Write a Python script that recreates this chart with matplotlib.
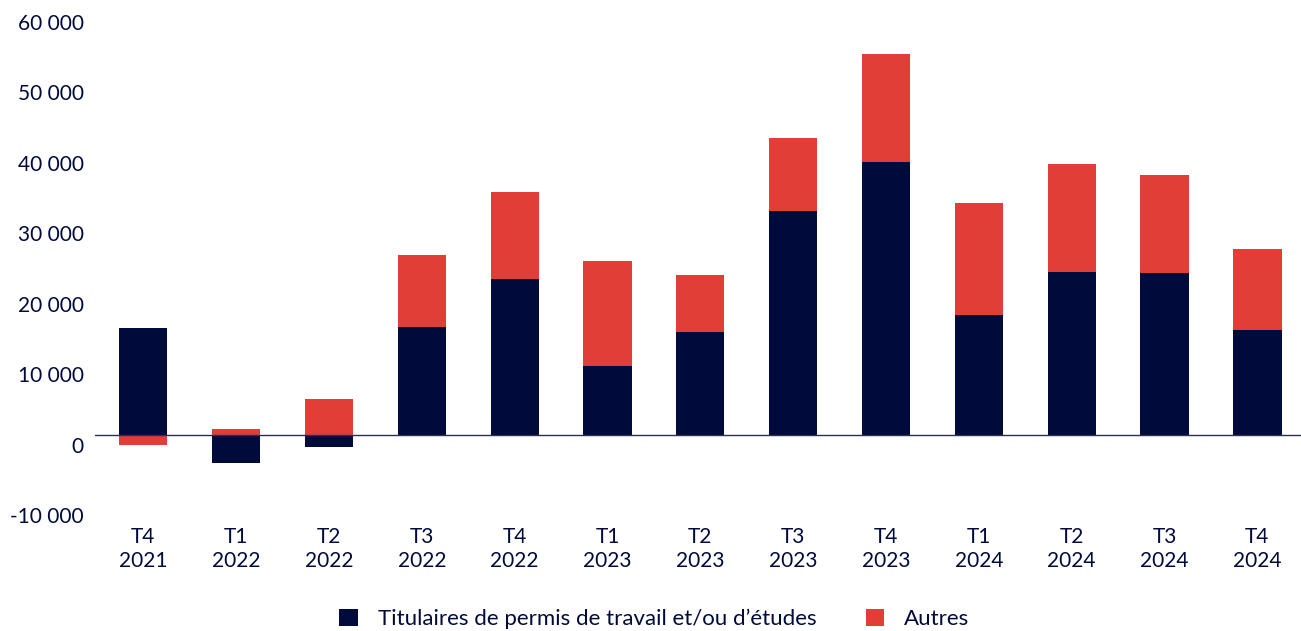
import matplotlib.pyplot as plt
import matplotlib.transforms as mtransforms
import numpy as np

quarters = ["T4\n2021", "T1\n2022", "T2\n2022", "T3\n2022", "T4\n2022", "T1\n2023", "T2\n2023",
            "T3\n2023", "T4\n2023", "T1\n2024", "T2\n2024", "T3\n2024", "T4\n2024"]
permis = [15200, -4100, -1800, 15300, 22100, 9800, 14600, 31800, 38700, 17000, 23100, 23000, 14900]
autres = [-1500, 850, 5000, 10200, 12400, 14900, 8100, 10300, 15300, 15900, 15300, 13900, 11500]
yticks = [-10000, 0, 10000, 20000, 30000, 40000, 50000, 60000]

NAVY = "#000B3C"
RED = "#E03E36"

plt.rcParams['font.family'] = ['Lato', 'DejaVu Sans']

permis = np.array(permis)
autres = np.array(autres)

# stack each series on the same side of zero
pos_base = np.where(permis > 0, permis, 0)
neg_base = np.where(permis < 0, permis, 0)
red_bottom = np.where(autres >= 0, pos_base, neg_base)

fig = plt.figure(figsize=(13.01, 6.31), dpi=100)
ax = fig.add_axes([95 / 1301, 126 / 631, 1206 / 1301, 493 / 631])

ind = np.arange(len(quarters))
b1 = ax.bar(ind, permis, width=0.52, color=NAVY, zorder=2)
b2 = ax.bar(ind, autres, width=0.52, bottom=red_bottom, color=RED, zorder=2)

ax.axhline(0, color="#2a2f55", linewidth=1.0, zorder=3)

ax.set_xlim(-0.52, 12.47)
ax.set_ylim(-10000, 60000)
ax.set_yticks(yticks)
ax.set_yticklabels(["{:,}".format(v).replace(",", " ") for v in yticks])
ax.set_xticks(ind)
ax.set_xticklabels(quarters, linespacing=1.25)

ax.tick_params(axis="y", length=0, pad=8, labelsize=15, labelcolor=NAVY)
ax.tick_params(axis="x", length=0, pad=16, labelsize=15, labelcolor=NAVY)

# y labels sit a little below their value
shift = mtransforms.ScaledTranslation(0, -10 / 100, fig.dpi_scale_trans)
for lbl in ax.get_yticklabels():
    lbl.set_transform(lbl.get_transform() + shift)

for s in ax.spines.values():
    s.set_visible(False)

fig.legend((b1[0], b2[0]), ("Titulaires de permis de travail et/ou d’études", "Autres"),
           loc="center", bbox_to_anchor=(0.503, 0.019), ncol=2, frameon=False,
           fontsize=16, labelcolor=NAVY, handlelength=0.85, handleheight=0.85,
           handletextpad=0.9, columnspacing=2.2)

fig.savefig("out.png", dpi=100)
plt.close(fig)
